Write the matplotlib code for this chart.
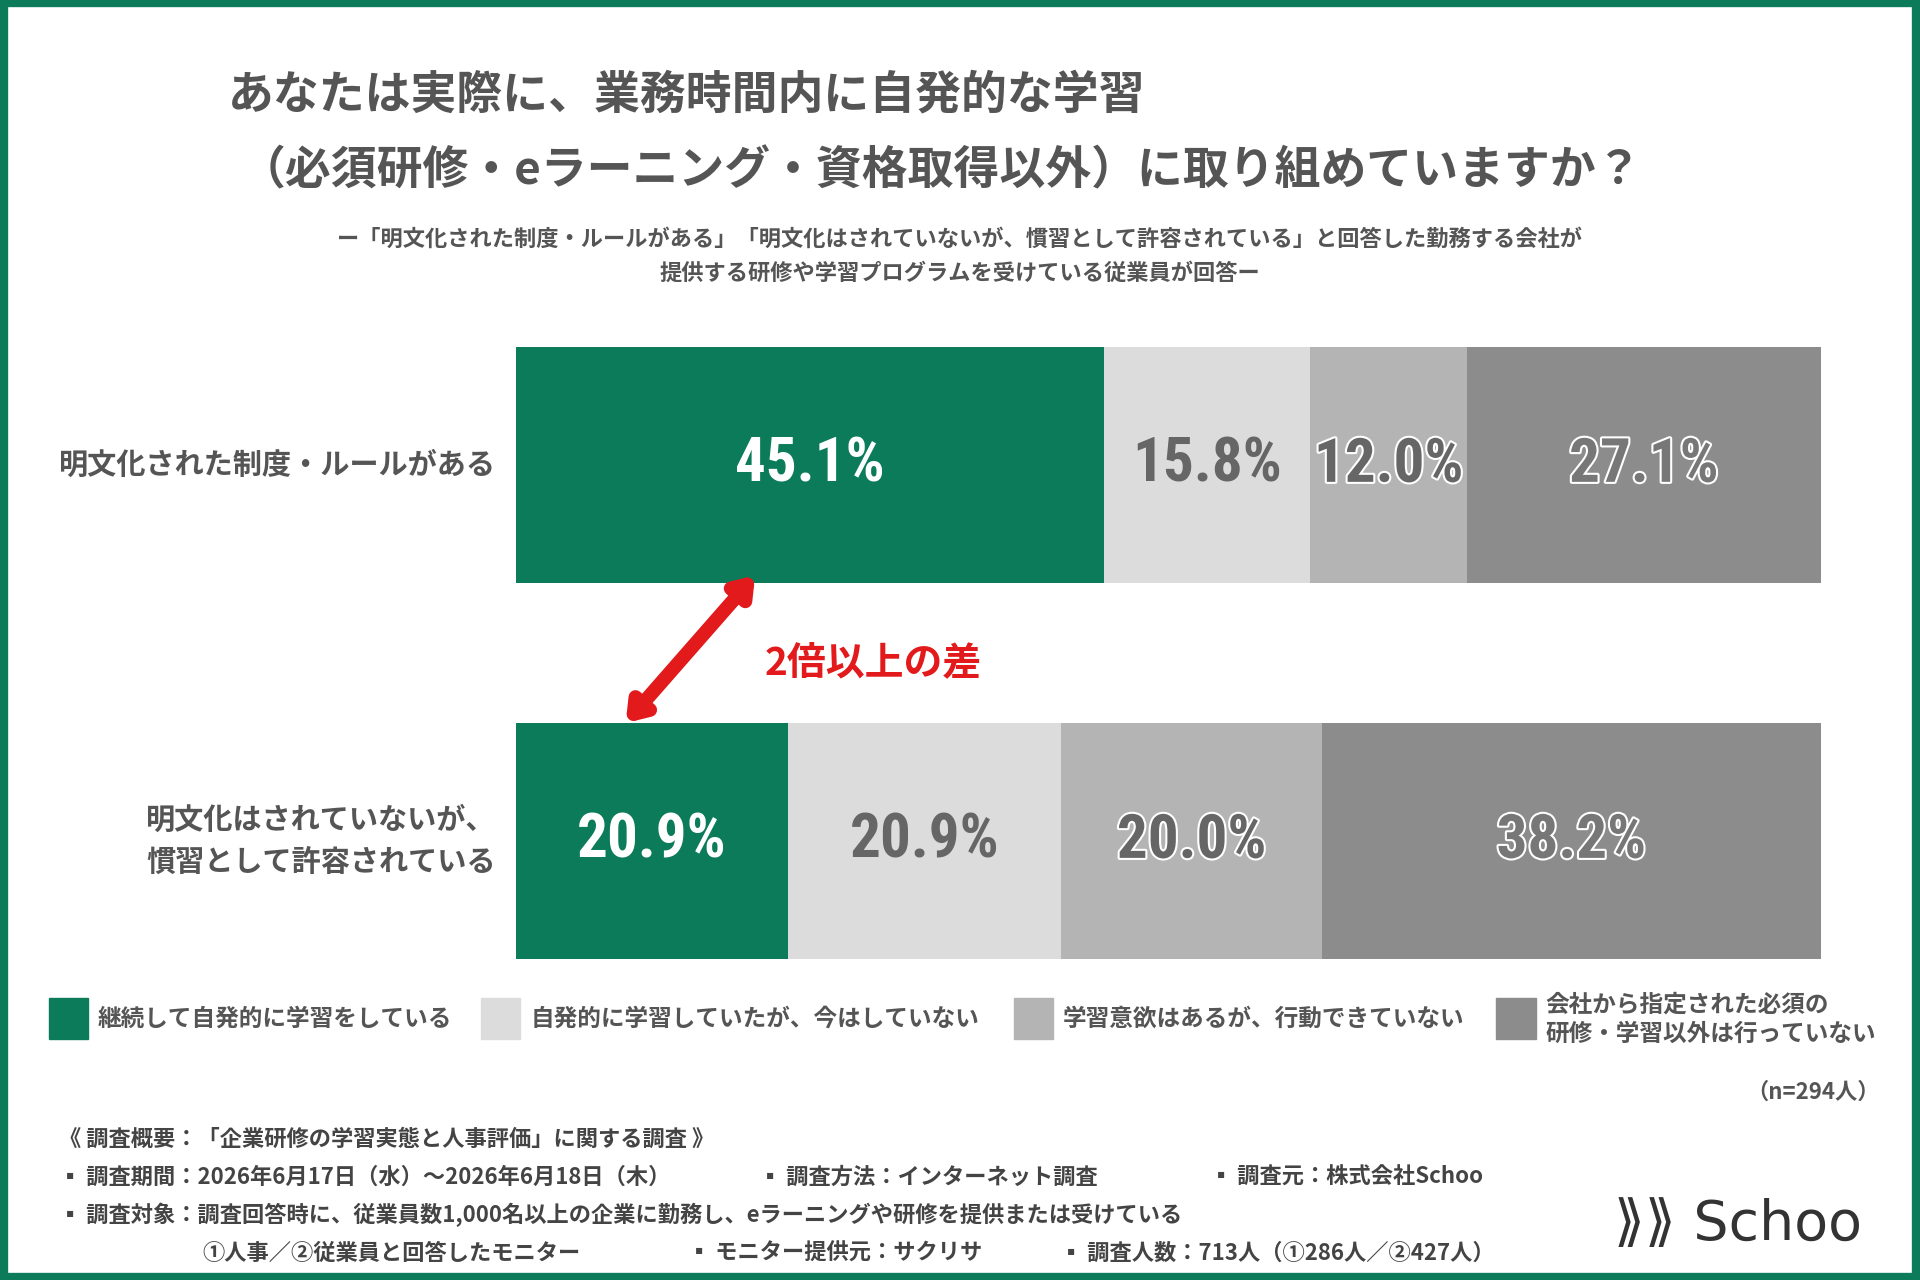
import matplotlib.pyplot as plt
import matplotlib.patheffects as pe
from matplotlib.patches import Rectangle

plt.rcParams['font.family'] = ['Noto Sans CJK JP', 'DejaVu Sans']
plt.rcParams['font.weight'] = 'bold'

W, H = 1568, 1045  # layout grid of the reference

categories = ['明文化された制度・ルールがある', '明文化はされていないが、\n慣習として許容されている']
values = [[45.1, 15.8, 12.0, 27.1],
          [20.9, 20.9, 20.0, 38.2]]
legend = ['継続して自発的に学習をしている', '自発的に学習していたが、今はしていない',
          '学習意欲はあるが、行動できていない', '会社から指定された必須の\n研修・学習以外は行っていない']
colors = ['#0b7b5a', '#dcdcdc', '#b4b4b4', '#8c8c8c']
txt_colors = ['white', '#666666', '#666666', '#777777']

fig = plt.figure(figsize=(19.2, 12.8), dpi=100)
fig.patches.append(Rectangle((0.002, 0.002), 0.996, 0.996, transform=fig.transFigure,
                             fill=False, ec='#0b7b5a', lw=6))

def fx(px):
    return px / W

def fy(py):
    return 1 - py / H

fig.text(fx(186), fy(78), 'あなたは実際に、業務時間内に自発的な学習', fontsize=33, color='#555555', va='center')
fig.text(fx(196), fy(140), '（必須研修・eラーニング・資格取得以外）に取り組めていますか？', fontsize=33,
         color='#555555', va='center')
fig.text(0.5, fy(195), 'ー「明文化された制度・ルールがある」「明文化はされていないが、慣習として許容されている」と回答した勤務する会社が',
         fontsize=16, color='#555555', ha='center', va='center')
fig.text(0.5, fy(223), '提供する研修や学習プログラムを受けている従業員が回答ー', fontsize=16, color='#555555',
         ha='center', va='center')

ax = fig.add_axes([fx(421), fy(783), fx(1487) - fx(421), fy(283) - fy(783)])
ys = [379.5, 686.5]
for i, row in enumerate(values):
    left = 0
    for j, v in enumerate(row):
        ax.barh(ys[i], v, left=left, height=193, color=colors[j])
        t = ax.text(left + v / 2, ys[i], f'{v:.1f}%', ha='center', va='center', fontsize=44,
                    color=txt_colors[j], family=['Roboto Condensed', 'Roboto', 'DejaVu Sans'], fontweight='bold')
        if j >= 2:
            t.set_path_effects([pe.withStroke(linewidth=3, foreground='white')])
        left += v
    fig.text(fx(405), fy(ys[i]), categories[i], ha='right', va='center', fontsize=21,
             color='#555555', linespacing=1.5)
ax.set_xlim(0, sum(values[0]))
ax.set_ylim(783, 283)
ax.axis('off')

ax.annotate('', xy=(8.3, 592), xytext=(18.5, 468),
            arrowprops=dict(arrowstyle='<|-|>,head_length=1.0,head_width=0.7', color='#e31a1c', lw=10))
ax.text(19.1, 541, '2倍以上の差', fontsize=28, color='#e31a1c', va='center')

lx = [40, 393, 828, 1222]
for j, lab in enumerate(legend):
    fig.patches.append(Rectangle((fx(lx[j]), fy(848)), fx(32), fy(815) - fy(848),
                                 transform=fig.transFigure, color=colors[j]))
    fig.text(fx(lx[j] + 40), fy(832), lab, fontsize=17, color='#555555', va='center', linespacing=1.3)

fig.text(fx(1535), fy(892), '（n=294人）', fontsize=16, color='#555555', ha='right', va='center')

foot = [(48, 930, '《 調査概要：「企業研修の学習実態と人事評価」に関する調査 》'),
        (48, 961, '▪ 調査期間：2026年6月17日（水）〜2026年6月18日（木）'),
        (620, 961, '▪ 調査方法：インターネット調査'),
        (988, 961, '▪ 調査元：株式会社Schoo'),
        (48, 992, '▪ 調査対象：調査回答時に、従業員数1,000名以上の企業に勤務し、eラーニングや研修を提供または受けている'),
        (165, 1023, '①人事／②従業員と回答したモニター'),
        (562, 1023, '▪ モニター提供元：サクリサ'),
        (866, 1023, '▪ 調査人数：713人（①286人／②427人）')]
for x, y, s in foot:
    fig.text(fx(x), fy(y), s, fontsize=16, color='#444444', va='center')

fig.text(fx(1318), fy(1000), '⟫⟫ Schoo', fontsize=40, color='#333333', va='center', fontweight='normal',
         family=['DejaVu Sans', 'Noto Sans CJK JP'])

fig.savefig('out.png', dpi=100)
